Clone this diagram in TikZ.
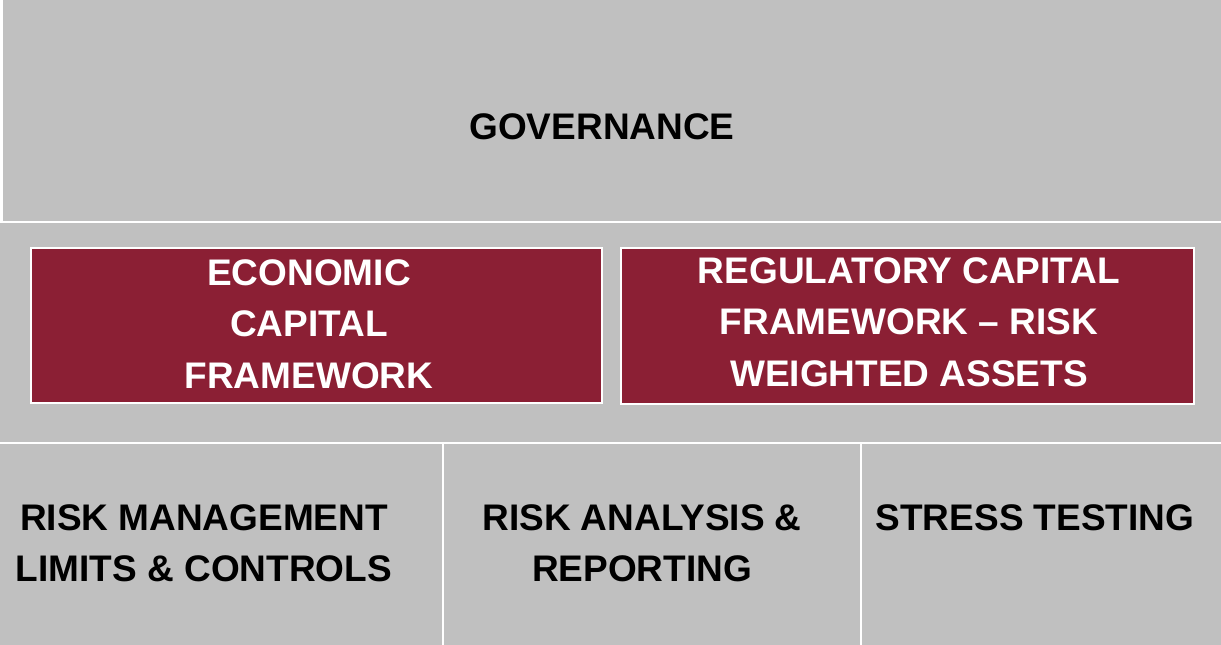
\documentclass[tikz,border=0pt]{standalone}
\usepackage{fontspec}
\setmainfont{Liberation Sans}
\definecolor{panelgray}{RGB}{192,192,192}
\definecolor{capitalred}{RGB}{139,31,52}
\newcommand\colorPanel{panelgray}
\newcommand\colorFramework{capitalred}
\newcommand\colorGap{white}
\newcommand\pillarFont{\fontsize{27.75}{38.5}\selectfont\bfseries}

\begin{document}
\begin{tikzpicture}[x=0.75pt,y=-0.75pt,
	pillartext/.style={font=\pillarFont, align=center, text=black},
	frametext/.style={pillartext, text=white},
	framebox/.style={fill=\colorFramework, draw=\colorGap, line width=1.5pt}]
	\fill[\colorGap] (0,0) rectangle (1221,645);
	\useasboundingbox (0,0) rectangle (1221,645);
	
	% governance row
	\fill[\colorPanel] (2.5,0) rectangle (1221,221.5);
	% capital row
	\fill[\colorPanel] (0,223.5) rectangle (1221,441.5);
	% bottom pillars
	\fill[\colorPanel] (0,443.5) rectangle (442,645);
	\fill[\colorPanel] (444,443.5) rectangle (860,645);
	\fill[\colorPanel] (862,443.5) rectangle (1221,645);
	
	\draw[framebox] (31,248) rectangle (602,403);
	\draw[framebox] (621,248) rectangle (1194,404);
	
	\node[pillartext] (governance) at (602,127) {GOVERNANCE};
	\node[frametext] (economic) at (309,324) {ECONOMIC\\ CAPITAL\\FRAMEWORK};
	\node[frametext] (regulatory) at (909,322) {REGULATORY CAPITAL\\FRAMEWORK -- RISK\\WEIGHTED ASSETS};
	\node[pillartext] (limits) at (204,543) {RISK MANAGEMENT\\LIMITS \& CONTROLS};
	\node[pillartext] (reporting) at (642,543) {RISK ANALYSIS \&\\REPORTING};
	\node[pillartext] (stress) at (1035,518) {STRESS TESTING};
\end{tikzpicture}
\end{document}
